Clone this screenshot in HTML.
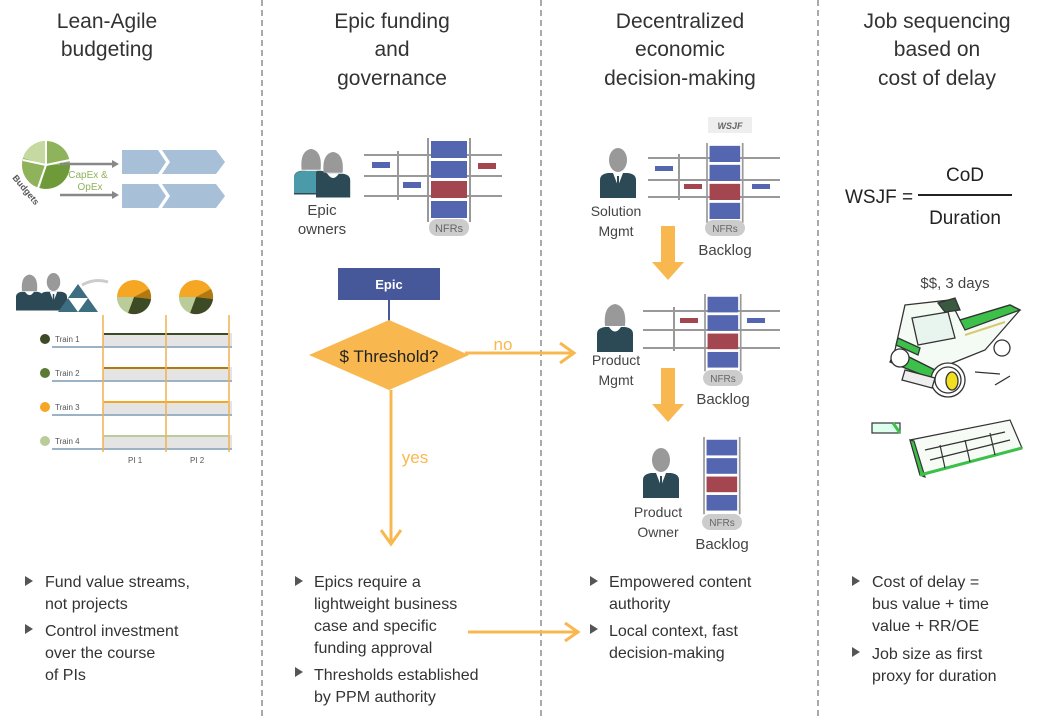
<!DOCTYPE html>
<html><head><meta charset="utf-8"><style>
body{margin:0;background:#fff;}
svg{display:block;font-family:"Liberation Sans",sans-serif;}
</style></head><body>
<svg width="1038" height="716" viewBox="0 0 1038 716" xmlns="http://www.w3.org/2000/svg">
<defs>
<g id="col">
 <line x1="0" y1="0" x2="0" y2="84" stroke="#999" stroke-width="2"/>
 <line x1="42" y1="0" x2="42" y2="84" stroke="#999" stroke-width="2"/>
 <rect x="3" y="3" width="36" height="17" fill="#5566b0"/>
 <rect x="3" y="23" width="36" height="17" fill="#5566b0"/>
 <rect x="3" y="43" width="36" height="17" fill="#a3464f"/>
 <rect x="3" y="63" width="36" height="17" fill="#5566b0"/>
</g>
<g id="man">
 <ellipse cx="18" cy="12" rx="9" ry="12" fill="#999"/>
 <path d="M0 50 L0 32 Q0 26 8 25 L28 25 Q36 26 36 32 L36 50 Z" fill="#2c4a55"/>
 <path d="M13 25 L18 38 L23 25 Z" fill="#fff"/>
 <line x1="18" y1="28" x2="18" y2="38" stroke="#2c4a55" stroke-width="2"/>
</g>
<g id="woman">
 <path d="M8 24 Q6 4 18 2 Q30 4 28 24 Z" fill="#999"/>
 <path d="M0 50 L0 32 Q0 26 8 25 L28 25 Q36 26 36 32 L36 50 Z" fill="#2c4a55"/>
 <path d="M12 25 Q18 34 24 25 Z" fill="#fff"/>
</g>
</defs>

<g stroke="#aaa" stroke-width="2" stroke-dasharray="6,4">
<line x1="262" y1="0" x2="262" y2="716"/>
<line x1="541" y1="0" x2="541" y2="716"/>
<line x1="818" y1="0" x2="818" y2="716"/>
</g>

<g font-size="21" fill="#333" text-anchor="middle">
<text x="107" y="28">Lean-Agile</text><text x="107" y="56">budgeting</text>
<text x="392" y="28">Epic funding</text><text x="392" y="56">and</text><text x="392" y="85">governance</text>
<text x="680" y="28">Decentralized</text><text x="680" y="56">economic</text><text x="680" y="85">decision-making</text>
<text x="937" y="28">Job sequencing</text><text x="937" y="56">based on</text><text x="937" y="85">cost of delay</text>
</g>

<circle cx="46" cy="165" r="24" fill="#8fb35a"/>
<path d="M46 165 L70 165 A24 24 0 0 1 40 188 Z" fill="#6f9a3a"/>
<path d="M46 165 L46 141 A24 24 0 0 0 23 158 Z" fill="#c5d9a0"/>
<g stroke="#fff" stroke-width="2"><line x1="46" y1="165" x2="70" y2="160"/><line x1="46" y1="165" x2="46" y2="141"/><line x1="46" y1="165" x2="23" y2="160"/><line x1="46" y1="165" x2="38" y2="188"/></g>
<text x="12" y="178" font-size="9" fill="#555" transform="rotate(50 12 178)" font-weight="bold">Budgets</text>
<g stroke="#888" stroke-width="2.5"><line x1="60" y1="164" x2="113" y2="164"/><line x1="60" y1="195" x2="113" y2="195"/></g>
<path d="M112 160 L119 164 L112 168Z M112 191 L119 195 L112 199Z" fill="#888"/>
<text x="88" y="178" font-size="10" fill="#8fb35a" text-anchor="middle">CapEx &amp;</text>
<text x="90" y="190" font-size="10" fill="#8fb35a" text-anchor="middle">OpEx</text>
<g fill="#a8bfd8">
<path d="M122 150 L158 150 L166 162 L158 174 L122 174Z"/>
<path d="M162 150 L216 150 L225 162 L216 174 L162 174 L170 162Z"/>
<path d="M122 184 L158 184 L166 196 L158 208 L122 208Z"/>
<path d="M162 184 L216 184 L225 196 L216 208 L162 208 L170 196Z"/>
</g>
<use href="#woman" transform="translate(16,273) scale(0.75)"/>
<use href="#man" transform="translate(40,273) scale(0.75)"/>
<path d="M68 298 L78 284 L88 298 Z M58 312 L68 298 L78 312Z M78 312 L88 298 L98 312Z" fill="#3c6d80"/>
<path d="M82 285 Q95 278 108 282" stroke="#ccc" stroke-width="3" fill="none"/>
<g transform="translate(134,297)"><circle r="17" fill="#f5a623"/><path d="M0 0 L17 2 A17 17 0 0 1 -6 16Z" fill="#3c4a25"/><path d="M0 0 L-6 16 A17 17 0 0 1 -17 0Z" fill="#b9cc9a"/><path d="M0 0 L15 -8 A17 17 0 0 1 17 2Z" fill="#b07a10"/></g>
<g transform="translate(196,297)"><circle r="17" fill="#f5a623"/><path d="M0 0 L17 2 A17 17 0 0 1 -6 16Z" fill="#3c4a25"/><path d="M0 0 L-6 16 A17 17 0 0 1 -17 0Z" fill="#b9cc9a"/><path d="M0 0 L15 -8 A17 17 0 0 1 17 2Z" fill="#b07a10"/></g>
<g>
<rect x="103" y="333" width="129" height="13" fill="#e4e4e4"/>
<rect x="103" y="367" width="129" height="13" fill="#e4e4e4"/>
<rect x="103" y="401" width="129" height="13" fill="#e4e4e4"/>
<rect x="103" y="435" width="129" height="13" fill="#e4e4e4"/>
<g stroke="#7a9ab0" stroke-width="1.5"><line x1="52" y1="347" x2="232" y2="347"/><line x1="52" y1="381" x2="232" y2="381"/><line x1="52" y1="415" x2="232" y2="415"/><line x1="52" y1="449" x2="232" y2="449"/></g>
<g stroke-width="2"><line x1="104" y1="334" x2="228" y2="334" stroke="#3c4a25"/><line x1="104" y1="368" x2="228" y2="368" stroke="#b07a10"/><line x1="104" y1="402" x2="228" y2="402" stroke="#f5a623"/><line x1="104" y1="436" x2="228" y2="436" stroke="#b9cc9a"/></g>
<g stroke="#f0b050" stroke-width="1.5"><line x1="103" y1="315" x2="103" y2="452"/><line x1="166" y1="315" x2="166" y2="452"/><line x1="229" y1="315" x2="229" y2="452"/></g>
<circle cx="45" cy="339" r="5" fill="#3c4a25"/><circle cx="45" cy="373" r="5" fill="#5a7a35"/><circle cx="45" cy="407" r="5" fill="#f5a623"/><circle cx="45" cy="441" r="5" fill="#b9cc9a"/>
<g font-size="8" fill="#555"><text x="55" y="342">Train 1</text><text x="55" y="376">Train 2</text><text x="55" y="410">Train 3</text><text x="55" y="444">Train 4</text><text x="128" y="463">PI 1</text><text x="190" y="463">PI 2</text></g>
</g>

<use href="#woman" transform="translate(294,147) scale(0.95)"/>
<path d="M294 193 L294 178 Q294 172 302 171 L316 171 L316 193Z" fill="#4a9aaa"/>
<use href="#woman" transform="translate(316,150) scale(0.95)"/>
<text x="322" y="215" font-size="15" fill="#444" text-anchor="middle">Epic</text>
<text x="322" y="234" font-size="15" fill="#444" text-anchor="middle">owners</text>
<g stroke="#999" stroke-width="2"><line x1="364" y1="155" x2="502" y2="155"/><line x1="364" y1="176" x2="502" y2="176"/><line x1="364" y1="196" x2="502" y2="196"/><line x1="398" y1="151" x2="398" y2="200"/></g>
<rect x="372" y="162" width="18" height="6" fill="#5566b0"/><rect x="403" y="182" width="18" height="6" fill="#5566b0"/><rect x="478" y="163" width="18" height="6" fill="#a3464f"/>
<use href="#col" transform="translate(428,138)"/>
<rect x="429" y="219" width="40" height="17" rx="8" fill="#ccc"/>
<text x="449" y="232" font-size="11" fill="#666" text-anchor="middle">NFRs</text>
<rect x="338" y="268" width="102" height="32" fill="#46579a"/>
<text x="389" y="289" font-size="13" fill="#fff" text-anchor="middle" font-weight="bold">Epic</text>
<line x1="389" y1="300" x2="389" y2="322" stroke="#46579a" stroke-width="2"/>
<path d="M389 320 L469 355 L389 390 L309 355Z" fill="#f9b84f"/>
<text x="389" y="362" font-size="17" fill="#222" text-anchor="middle">$ Threshold?</text>
<g stroke="#f9b84f" stroke-width="3" fill="none">
<line x1="465" y1="353" x2="574" y2="353"/><path d="M560 343 L574 353 L560 363"/>
<line x1="391" y1="390" x2="391" y2="544"/><path d="M381 530 L391 544 L401 530"/>
<line x1="468" y1="632" x2="578" y2="632"/><path d="M565 623 L578 632 L565 641"/>
</g>
<text x="503" y="350" font-size="17" fill="#f9b84f" text-anchor="middle">no</text>
<text x="415" y="463" font-size="17" fill="#f9b84f" text-anchor="middle">yes</text>

<rect x="708" y="117" width="44" height="16" fill="#eee"/>
<text x="730" y="129" font-size="9" fill="#666" text-anchor="middle" font-style="italic" font-weight="bold">WSJF</text>
<use href="#man" transform="translate(600,148)"/>
<text x="616" y="216" font-size="14" fill="#444" text-anchor="middle">Solution</text>
<text x="616" y="236" font-size="14" fill="#444" text-anchor="middle">Mgmt</text>
<g stroke="#999" stroke-width="2"><line x1="648" y1="158" x2="780" y2="158"/><line x1="648" y1="180" x2="780" y2="180"/><line x1="648" y1="197" x2="780" y2="197"/><line x1="679" y1="154" x2="679" y2="200"/></g>
<rect x="655" y="166" width="18" height="5" fill="#5566b0"/><rect x="684" y="184" width="18" height="5" fill="#a3464f"/><rect x="752" y="184" width="18" height="5" fill="#5566b0"/>
<g transform="translate(707,143) scale(0.85,0.95)"><use href="#col"/></g>
<rect x="705" y="220" width="40" height="16" rx="8" fill="#ccc"/>
<text x="725" y="232" font-size="10" fill="#666" text-anchor="middle">NFRs</text>
<text x="725" y="255" font-size="15" fill="#444" text-anchor="middle">Backlog</text>
<path d="M661 226 L675 226 L675 262 L684 262 L668 280 L652 262 L661 262Z" fill="#f9b84f"/>
<path d="M661 368 L675 368 L675 404 L684 404 L668 422 L652 404 L661 404Z" fill="#f9b84f"/>
<use href="#woman" transform="translate(597,302)"/>
<text x="616" y="365" font-size="14" fill="#444" text-anchor="middle">Product</text>
<text x="616" y="385" font-size="14" fill="#444" text-anchor="middle">Mgmt</text>
<g stroke="#999" stroke-width="2"><line x1="643" y1="311" x2="780" y2="311"/><line x1="643" y1="330" x2="780" y2="330"/><line x1="643" y1="348" x2="780" y2="348"/><line x1="674" y1="307" x2="674" y2="351"/></g>
<rect x="680" y="318" width="18" height="5" fill="#a3464f"/><rect x="747" y="318" width="18" height="5" fill="#5566b0"/>
<g transform="translate(705,294) scale(0.85,0.92)"><use href="#col"/></g>
<rect x="703" y="370" width="40" height="16" rx="8" fill="#ccc"/>
<text x="723" y="382" font-size="10" fill="#666" text-anchor="middle">NFRs</text>
<text x="723" y="404" font-size="15" fill="#444" text-anchor="middle">Backlog</text>
<use href="#man" transform="translate(643,448)"/>
<text x="658" y="517" font-size="14" fill="#444" text-anchor="middle">Product</text>
<text x="658" y="537" font-size="14" fill="#444" text-anchor="middle">Owner</text>
<g transform="translate(704,437) scale(0.85,0.92)"><use href="#col"/></g>
<rect x="702" y="514" width="40" height="16" rx="8" fill="#ccc"/>
<text x="722" y="526" font-size="10" fill="#666" text-anchor="middle">NFRs</text>
<text x="722" y="549" font-size="15" fill="#444" text-anchor="middle">Backlog</text>

<text x="845" y="203" font-size="19" fill="#222">WSJF =</text>
<line x1="918" y1="195" x2="1012" y2="195" stroke="#222" stroke-width="2"/>
<text x="965" y="181" font-size="19" fill="#222" text-anchor="middle">CoD</text>
<text x="965" y="224" font-size="19" fill="#222" text-anchor="middle">Duration</text>
<text x="955" y="288" font-size="15" fill="#444" text-anchor="middle">$$, 3 days</text>
<g stroke="#333" stroke-width="1.3" fill="none">
<path d="M905 305 L950 300 L960 320 L1010 305 L1020 310 L985 350 L960 360 L935 370 L895 350 Z" fill="#f4fbf4"/>
<path d="M912 318 L948 312 L955 338 L918 345 Z" fill="#e8f4ee"/>
<path d="M938 303 L955 298 L960 310 L945 312Z" fill="#3a5a40"/>
<path d="M895 350 L935 370 L935 380 L890 362 Z" fill="#3cc04a"/>
<path d="M898 338 L920 348 L918 355 L896 345Z" fill="#3cc04a"/>
<circle cx="900" cy="358" r="9" fill="#fff"/>
<circle cx="948" cy="380" r="17" fill="#fff"/>
<circle cx="948" cy="380" r="13"/>
<ellipse cx="952" cy="381" rx="6" ry="9" fill="#f0e020"/>
<circle cx="1002" cy="348" r="8" fill="#fff"/>
<path d="M960 320 L1010 305 L1020 310 L965 330Z" fill="#3cc04a"/>
<path d="M965 335 L1005 322" stroke="#d8c870" stroke-width="2"/>
<path d="M975 372 L1000 374 M995 385 L1010 376"/>
<path d="M905 370 L935 378 L932 388 L902 380Z" fill="#eee"/>
</g>
<g stroke="#333" stroke-width="1.2" fill="none">
<rect x="872" y="423" width="28" height="10" fill="#dfe"/>
<path d="M893 423 L900 433" stroke="#3cc04a" stroke-width="3"/>
<path d="M910 440 L1010 420 L1022 448 L920 475 Z" fill="#f6fbf6"/>
<path d="M910 440 L920 475 L925 477 L914 441Z" fill="#3cc04a"/>
<path d="M920 475 L1022 448" stroke="#3cc04a" stroke-width="3"/>
<path d="M925 450 L1005 432 M930 460 L1010 440 M940 445 L945 468 M965 440 L970 462 M990 433 L995 455"/>
</g>

<g font-size="16" fill="#333">
<g fill="#555"><path d="M25 576 L33 581 L25 586Z M25 624 L33 629 L25 634Z M295 576 L303 581 L295 586Z M295 667 L303 672 L295 677Z M590 576 L598 581 L590 586Z M590 624 L598 629 L590 634Z M852 576 L860 581 L852 586Z M852 647 L860 652 L852 657Z"/></g>
<text x="45" y="587">Fund value streams,</text><text x="45" y="609">not projects</text>
<text x="45" y="636">Control investment</text><text x="45" y="658">over the course</text><text x="45" y="680">of PIs</text>
<text x="314" y="587">Epics require a</text><text x="314" y="609">lightweight business</text><text x="314" y="631">case and specific</text><text x="314" y="653">funding approval</text>
<text x="314" y="680">Thresholds established</text><text x="314" y="702">by PPM authority</text>
<text x="609" y="587">Empowered content</text><text x="609" y="609">authority</text>
<text x="609" y="636">Local context, fast</text><text x="609" y="658">decision-making</text>
<text x="872" y="587">Cost of delay =</text><text x="872" y="609">bus value + time</text><text x="872" y="631">value + RR/OE</text>
<text x="872" y="659">Job size as first</text><text x="872" y="681">proxy for duration</text>
</g>
</svg>
</body></html>
